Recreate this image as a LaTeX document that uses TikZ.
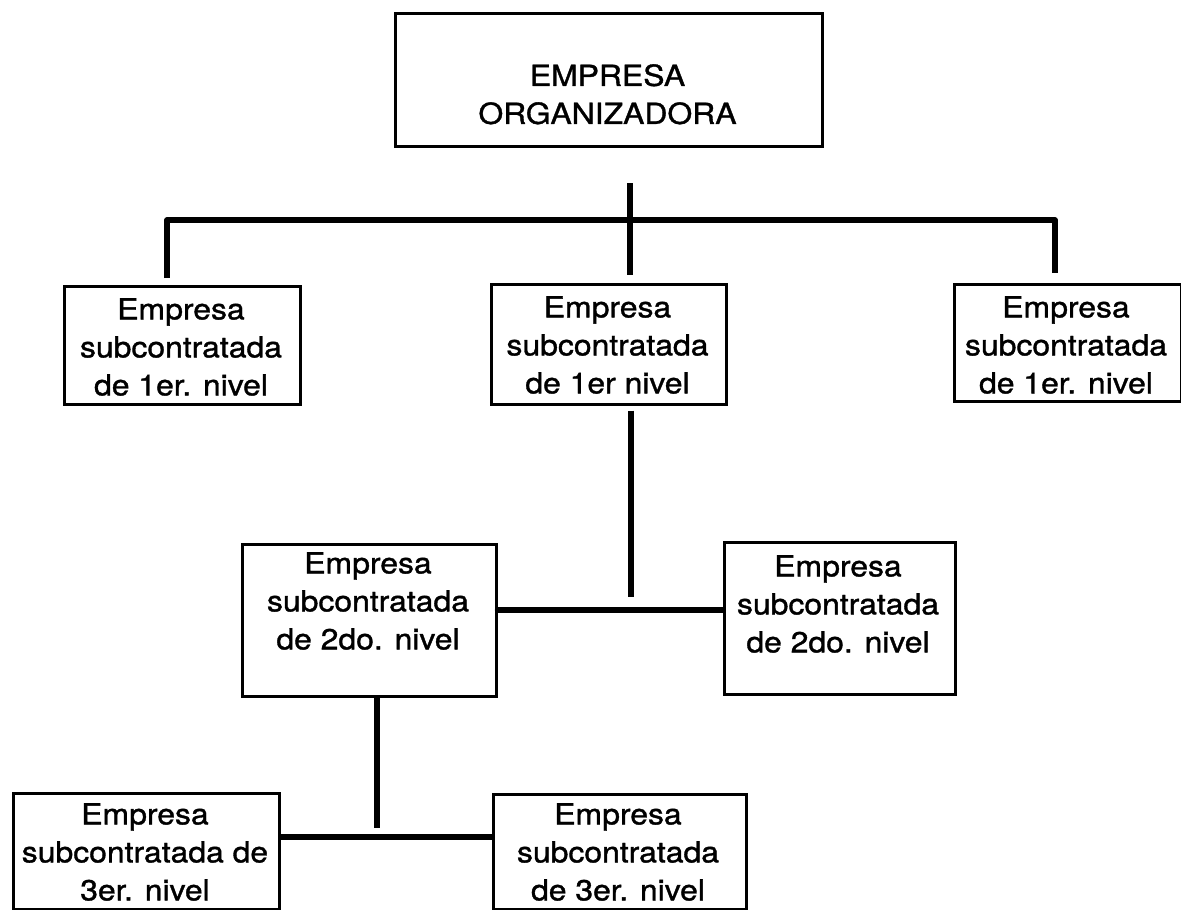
\documentclass[tikz,border=0pt]{standalone}
\usepackage{fontspec}
\setmainfont{TeX Gyre Heros}[FakeStretch=1.1, FakeBold=1.2]
\usetikzlibrary{calc}
\begin{document}
\begin{tikzpicture}[x=1pt,y=-1pt,
  frame/.style={draw=black, line width=2.6pt, rectangle, inner sep=0pt, anchor=north west},
  lbl/.style={align=center, inner sep=0pt, anchor=north, font=\fontsize{29}{38}\selectfont},
  conn/.style={line width=5.5pt, line join=round}]
\useasboundingbox (0,0) rectangle (1181,910);
\fill[white] (0,0) rectangle (1181,910);

% boxes
\node[frame, minimum width=427pt, minimum height=133pt] (T)  at (394,12)  {};
\node[frame, minimum width=236pt, minimum height=118pt] (L1) at (63,285)  {};
\node[frame, minimum width=235pt, minimum height=120pt] (M1) at (490,283) {};
\node[frame, minimum width=227pt, minimum height=117pt] (R1) at (953,283) {};
\node[frame, minimum width=254pt, minimum height=152pt] (L2) at (241,543) {};
\node[frame, minimum width=231pt, minimum height=152pt] (R2) at (723,541) {};
\node[frame, minimum width=266pt, minimum height=116pt] (L3) at (12,792)  {};
\node[frame, minimum width=253pt, minimum height=115pt] (R3) at (492,793) {};

% texts
\node[lbl] (Tt)  at (607.5,64) {EMPRESA\\ORGANIZADORA};
\node[lbl] (L1t) at (181,298)  {Empresa\\subcontratada\\de 1er. nivel};
\node[lbl] (M1t) at (607.5,296) {Empresa\\subcontratada\\de 1er nivel};
\node[lbl] (R1t) at (1066,296) {Empresa\\subcontratada\\de 1er. nivel};
\node[lbl] (L2t) at (368,552)  {Empresa\\subcontratada\\de 2do. nivel};
\node[lbl] (R2t) at (838,555)  {Empresa\\subcontratada\\de 2do. nivel};
\node[lbl] (L3t) at (145,803)  {Empresa\\subcontratada de\\3er. nivel};
\node[lbl] (R3t) at (618,803)  {Empresa\\subcontratada\\de 3er. nivel};

% first level connectors
\coordinate (s0) at (630,183);
\coordinate (s1) at (630,275);
\draw[conn] (s0) -- (s1);
\coordinate (bl) at (167,220);
\coordinate (br) at (1055,220);
\draw[conn] ($(L1.north -| bl)+(0,-7)$) -- (bl) -- (br) -- ($(R1.north -| br)+(0,-10)$);

% second level connectors
\coordinate (m1) at (631,597);
\draw[conn] ($(M1.south -| m1)+(0,5)$) -- (m1);
\coordinate (h2) at (631,610);
\draw[conn, line cap=round] (L2.east |- h2) -- (R2.west |- h2);

% third level connectors
\coordinate (v3) at (377,828);
\draw[conn] (L2.south -| v3) -- (v3);
\coordinate (h3) at (377,837);
\draw[conn] (L3.east |- h3) -- (R3.west |- h3);
\end{tikzpicture}
\end{document}
